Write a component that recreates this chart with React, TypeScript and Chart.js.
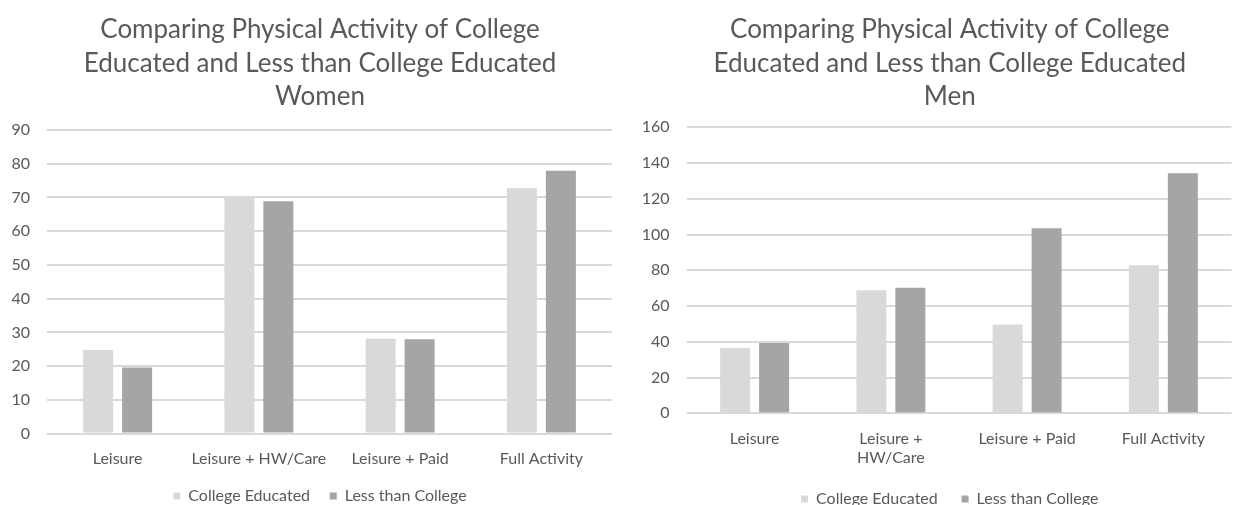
import React, { useEffect, useRef } from "react";
import { Chart, registerables } from "chart.js";

Chart.register(...registerables);

// Category labels for each panel
const womenCategories: (string | string[])[] = ["Leisure", "Leisure + HW/Care", "Leisure + Paid", "Full Activity"];
const menCategories: (string | string[])[] = ["Leisure", ["Leisure +", "HW/Care"], "Leisure + Paid", "Full Activity"];

// Series values
const womenCollege = [24.8, 70.2, 28.1, 72.7];
const womenLessThanCollege = [19.6, 68.9, 28, 77.9];
const menCollege = [36.6, 68.9, 49.7, 82.9];
const menLessThanCollege = [39.4, 70.2, 103.5, 134.3];

// Value axis ranges
const womenAxis = { max: 90, step: 10 };
const menAxis = { max: 160, step: 20 };

const seriesNames = ["College Educated", "Less than College"];
const seriesColors = ["#d9d9d9", "#a5a5a5"];

const womenTitle = ["Comparing Physical Activity of College", "Educated and Less than College Educated", "Women"];
const menTitle = ["Comparing Physical Activity of College", "Educated and Less than College Educated", "Men"];

const FONT = "Lato";
const TEXT = "#595959";
const GRID = "#d9d9d9";

// Moves the title and legend sideways so they centre on the whole panel frame
const frameShift = {
  id: "frameShift",
  afterLayout(chart: any, _args: any, opts: any) {
    const dx = opts?.dx || 0;
    for (const box of [chart.titleBlock, chart.legend]) {
      if (!box) continue;
      box.left += dx;
      box.right += dx;
    }
  },
};

type PanelProps = {
  labels: (string | string[])[];
  college: number[];
  lessThan: number[];
  axis: { max: number; step: number };
  title: string[];
  categoryPercentage: number;
  padRight: number;
  yAxisWidth: number;
  xAxisHeight: number;
  titleBottom: number;
  legendGap: number;
  shift: number;
};

function BarPanel(p: PanelProps) {
  const ref = useRef<HTMLCanvasElement | null>(null);
  useEffect(() => {
    if (!ref.current) return;
    const chart = new Chart(ref.current, {
      type: "bar",
      data: {
        labels: p.labels,
        datasets: [
          { label: seriesNames[0], data: p.college, backgroundColor: seriesColors[0] },
          { label: seriesNames[1], data: p.lessThan, backgroundColor: seriesColors[1] },
        ],
      },
      plugins: [frameShift],
      options: {
        animation: false,
        responsive: true,
        maintainAspectRatio: false,
        layout: { padding: { top: 0, left: 0, right: p.padRight, bottom: 0 } },
        datasets: { bar: { categoryPercentage: p.categoryPercentage, barPercentage: 0.77 } },
        plugins: {
          frameShift: { dx: p.shift },
          title: {
            display: true,
            text: p.title,
            color: TEXT,
            font: { family: FONT, size: 26, weight: "normal", lineHeight: 1.29 },
            padding: { top: 13, bottom: p.titleBottom },
          },
          legend: {
            position: "bottom",
            labels: {
              color: TEXT,
              font: { family: FONT, size: 16 },
              boxWidth: 7,
              boxHeight: 7,
              padding: p.legendGap,
            },
          },
          tooltip: { enabled: false },
        },
        scales: {
          x: {
            grid: { display: false, drawTicks: false },
            border: { display: false },
            ticks: { color: TEXT, font: { family: FONT, size: 16 }, padding: 15.5, maxRotation: 0, autoSkip: false },
            afterFit: (s: any) => {
              s.height = p.xAxisHeight;
            },
          },
          y: {
            min: 0,
            max: p.axis.max,
            grid: { color: GRID, lineWidth: 2, drawTicks: false },
            border: { display: false },
            ticks: { color: TEXT, font: { family: FONT, size: 16 }, padding: 17, stepSize: p.axis.step },
            afterFit: (s: any) => {
              s.width = p.yAxisWidth;
            },
          },
        },
      },
    } as any);
    return () => chart.destroy();
  }, []);
  return <canvas ref={ref} />;
}

export default function App() {
  useEffect(() => {
    document.body.style.margin = "0";
    document.body.style.overflow = "hidden";
  }, []);
  return (
    <div style={{ position: "relative", width: 1233, height: 505, overflow: "hidden", background: "#fff" }}>
      <div style={{ position: "absolute", left: 0, top: 0, width: 620, height: 514 }}>
        <BarPanel
          labels={womenCategories}
          college={womenCollege}
          lessThan={womenLessThanCollege}
          axis={womenAxis}
          title={womenTitle}
          categoryPercentage={0.552}
          padRight={8}
          yAxisWidth={47}
          xAxisHeight={34.7}
          titleBottom={16.4}
          legendGap={19.7}
          shift={14}
        />
      </div>
      <div style={{ position: "absolute", left: 620, top: 0, width: 613, height: 517 }}>
        <BarPanel
          labels={menCategories}
          college={menCollege}
          lessThan={menLessThanCollege}
          axis={menAxis}
          title={menTitle}
          categoryPercentage={0.572}
          padRight={1.5}
          yAxisWidth={66.5}
          xAxisHeight={53.9}
          titleBottom={13.7}
          legendGap={23.8}
          shift={24}
        />
      </div>
    </div>
  );
}
